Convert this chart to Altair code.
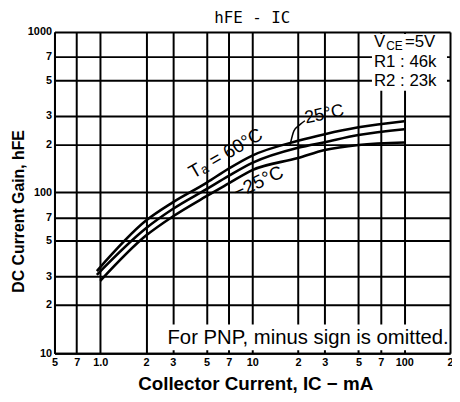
import altair as alt
import pandas as pd

# ---- axis ticks / labels ----
x_ticks = [0.5, 0.7, 1, 2, 3, 5, 7, 10, 20, 30, 50, 70, 100, 200]
x_tick_labels = ["5", "7", "1.0", "2", "3", "5", "7", "10", "2", "3", "5", "7", "100", "2"]
y_ticks = [10, 20, 30, 50, 70, 100, 200, 300, 500, 700, 1000]
y_tick_labels = ["10", "2", "3", "5", "7", "100", "2", "3", "5", "7", "1000"]

# ---- curves (IC in mA, hFE) ----
ic_60 = [0.95, 2, 3, 5, 7, 10, 20, 30, 50, 100]
hfe_60 = [32.5, 67, 87, 115, 141, 170, 210, 231, 255, 278]
ic_25 = [0.95, 2, 3, 5, 7, 10, 20, 30, 50, 100]
hfe_25 = [30.8, 60, 79, 105, 127, 153, 190, 206, 228, 248]
ic_m25 = [1.0, 2, 3, 5, 7, 10, 20, 30, 50, 100]
hfe_m25 = [28.2, 54, 71, 95, 114, 138, 164, 184, 198, 205]

# ---- annotation helpers (data coordinates) ----
leader_x = [17.7, 18.8, 20.5, 22.2]
leader_y = [196, 242, 264, 280]

box_x = [61.3, 2.48]
box_x2 = [191, 191]
box_y = [430, 10.45]
box_y2 = [971, 15.1]


def label_expr(vals, labs):
    expr = "''"
    for v, l in reversed(list(zip(vals, labs))):
        expr = f"datum.value == {v} ? '{l}' : {expr}"
    return expr


xscale = alt.Scale(type="log", domain=[0.5, 200], nice=False)
yscale = alt.Scale(type="log", domain=[10, 1000], nice=False)

xaxis = alt.Axis(
    values=x_ticks, labelExpr=label_expr(x_ticks, x_tick_labels),
    grid=True, gridColor="black", gridWidth=2, gridOpacity=1,
    ticks=False, domainColor="black", domainWidth=2,
    labelFont="Liberation Sans", labelFontSize=11, labelFontWeight="bold",
    labelColor="black", labelPadding=3, labelFlush=False, labelOverlap=False,
    title="Collector Current, IC \u2212 mA", titleFont="Liberation Sans",
    titleFontSize=19, titleFontWeight="bold", titleColor="black",
    titleX=203, titleY=37, titleAlign="center", titleBaseline="alphabetic",
)
yaxis = alt.Axis(
    values=y_ticks, labelExpr=label_expr(y_ticks, y_tick_labels),
    grid=True, gridColor="black", gridWidth=2, gridOpacity=1,
    ticks=False, domainColor="black", domainWidth=2,
    labelFont="Liberation Sans", labelFontSize=11, labelFontWeight="bold",
    labelColor="black", labelPadding=3, labelFlush=False, labelOverlap=False,
    title="DC Current Gain, hFE", titleFont="Liberation Sans",
    titleFontSize=16, titleFontWeight="bold", titleColor="black",
    titleX=-36, titleY=181, titleAngle=270, titleAlign="center",
    titleBaseline="middle",
)

X = alt.X("x:Q", scale=xscale, axis=xaxis)
Y = alt.Y("y:Q", scale=yscale, axis=yaxis)

curves = pd.concat([
    pd.DataFrame({"x": ic_60, "y": hfe_60, "s": "60"}),
    pd.DataFrame({"x": ic_25, "y": hfe_25, "s": "25"}),
    pd.DataFrame({"x": ic_m25, "y": hfe_m25, "s": "-25"}),
])

boxes = pd.DataFrame({"x": box_x, "x2": box_x2, "y": box_y, "y2": box_y2})
leader = pd.DataFrame({"x": leader_x, "y": leader_y})

rects = alt.Chart(boxes).mark_rect(color="white").encode(
    x=X, x2="x2:Q", y=Y, y2="y2:Q")

lines = alt.Chart(curves).mark_line(
    interpolate="monotone", color="black", strokeWidth=2.6).encode(
    x=X, y=Y, detail="s:N")

lead = alt.Chart(leader).mark_line(
    interpolate="monotone", color="black", strokeWidth=1.5).encode(x=X, y=Y)

lab_font = "Liberation Sans Narrow, Liberation Sans, sans-serif"


def txt(df, **kw):
    base = dict(color="black", font=lab_font)
    base.update(kw)
    return alt.Chart(pd.DataFrame(df)).mark_text(**base).encode(
        x=X, y=Y, text="t:N")


t_60 = txt({"x": [6.68], "y": [175], "t": ["T\u2090 = 60\u00b0C"]},
           fontSize=19, angle=330, align="center", baseline="middle")
t_25 = txt({"x": [22.2], "y": [288], "t": ["25\u00b0C"]},
           fontSize=18, angle=348, align="left", baseline="middle")
t_m25 = txt({"x": [10.95], "y": [116], "t": ["\u221225\u00b0C"]},
            fontSize=19, angle=335, align="center", baseline="middle")

t_v = txt({"x": [63.2], "y": [800], "t": ["V"]}, fontSize=17,
          align="left", baseline="alphabetic")
t_ce = txt({"x": [76.0], "y": [770], "t": ["CE"]}, fontSize=12,
           align="left", baseline="alphabetic")
t_5v = txt({"x": [101.0], "y": [800], "t": ["=5V"]}, fontSize=17,
           align="left", baseline="alphabetic")
t_r = txt({"x": [63.2, 63.2], "y": [609, 459], "t": ["R1 : 46k", "R2 : 23k"]},
          fontSize=17, align="left", baseline="alphabetic")

t_pnp = txt({"x": [196], "y": [11.36], "t": ["For PNP, minus sign is omitted."]},
            fontSize=20.5, align="right", baseline="alphabetic",
            font="Liberation Sans, Arial, sans-serif")

chart = alt.layer(
    rects, lines, lead, t_60, t_25, t_m25, t_v, t_ce, t_5v, t_r, t_pnp
).properties(
    width=400, height=325,
    autosize=alt.AutoSizeParams(type="none"),
    padding={"left": 47, "top": 22, "right": 2, "bottom": 39},
    title=alt.TitleParams("hFE - IC", font="DejaVu Sans Mono", fontSize=16,
                          fontWeight="normal", color="black", anchor="middle",
                          offset=8, dy=8),
).configure_view(stroke=None).configure(background="white")

chart.save("out.html", embed_options={"renderer": "svg", "actions": False})
